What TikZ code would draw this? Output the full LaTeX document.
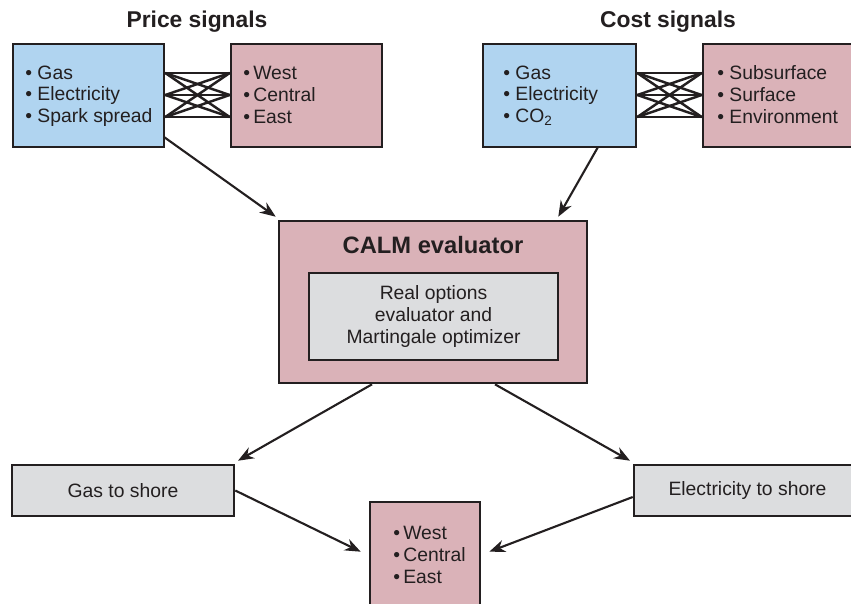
\documentclass[tikz,border=0pt]{standalone}
\usepackage{fontspec}
\setmainfont{Liberation Sans}
\usepackage{tikz}
\usetikzlibrary{arrows.meta}
\definecolor{sigblue}{RGB}{176,212,240}
\definecolor{sigpink}{RGB}{218,178,184}
\definecolor{boxgray}{RGB}{220,221,223}
\definecolor{ink}{RGB}{35,31,32}

\begin{document}
\begin{tikzpicture}[x=0.02cm, y=-0.02cm,
	box/.style={draw=ink, line width=1.5pt, inner sep=0pt},
	item/.style={anchor=west, inner sep=0pt, font=\fontsize{11}{12.5}\selectfont, text=ink},
	title/.style={font=\fontsize{13}{15}\selectfont\bfseries, text=ink},
	link/.style={draw=ink, line width=1.4pt},
	arr/.style={draw=ink, line width=1.2pt, -{Stealth[length=9pt, width=7pt]}}]
		\clip (0,0) rectangle (851,603);
		\useasboundingbox (0,0) rectangle (851,603);
		% titles
		\node[title] (ptitle) at (197,22) {Price signals};
		\node[title] (ctitle) at (668,22) {Cost signals};
		% signal boxes
		\node[box, fill=sigblue, minimum width=3.02cm, minimum height=2.06cm] (pl) at (88.5,95.5) {};
		\node[box, fill=sigpink, minimum width=3.02cm, minimum height=2.06cm] (pr) at (306.5,95.5) {};
		\node[box, fill=sigblue, minimum width=3.06cm, minimum height=2.06cm] (cl) at (559.5,95.5) {};
		\node[box, fill=sigpink, minimum width=3.2cm, minimum height=2.06cm] (cr) at (783,95.5) {};
		\foreach \t [count=\i] in {Gas,Electricity,Spark spread}
			\node[item] (pl\i) at (25,51+22*\i) {\textbullet\ \t};
		\foreach \t [count=\i] in {West,Central,East}
			\node[item] (pr\i) at (243,51+22*\i) {\textbullet\,\t};
		\foreach \t [count=\i] in {Gas,Electricity,CO\textsubscript{2}}
			\node[item] (cl\i) at (503,51+22*\i) {\textbullet\ \t};
		\foreach \t [count=\i] in {Subsurface,Surface,Environment}
			\node[item] (cr\i) at (717,51+22*\i) {\textbullet\ \t};
		% crossing links
		\foreach \i in {1,2,3}
			\foreach \j in {1,2,3} {
				\draw[link] (pl.east |- pl\i) -- (pr.west |- pr\j);
				\draw[link] (cl.east |- cl\i) -- (cr.west |- cr\j);
			}
		% evaluator
		\node[box, fill=sigpink, minimum width=6.16cm, minimum height=3.24cm] (calm) at (433,302) {};
		\node[title, font=\fontsize{13.5}{15}\selectfont\bfseries] (calmtitle) at (433,245) {CALM evaluator};
		\node[box, fill=boxgray, minimum width=4.98cm, minimum height=1.74cm, align=center,
			font=\fontsize{11}{12.5}\selectfont, text=ink] (inner) at (433.5,316.5)
			{Real options\\evaluator and\\Martingale optimizer};
		% outputs
		\node[box, fill=boxgray, minimum width=4.44cm, minimum height=1.02cm,
			font=\fontsize{11}{12.5}\selectfont, text=ink] (gas) at (123,490.5) {Gas to shore};
		\node[box, fill=boxgray, minimum width=4.52cm, minimum height=1.02cm] (elec) at (747,490.5) {};
		\node[item, anchor=center] (electxt) at (747.5,490.5) {Electricity to shore};
		\node[box, fill=sigpink, minimum width=2.2cm, minimum height=2.36cm] (reg) at (425,561) {};
		\foreach \t [count=\i] in {West,Central,East}
			\node[item] (reg\i) at (393,511+22*\i) {\textbullet\,\t};
		% arrows
		\coordinate (a1) at (164,137);
		\coordinate (a2) at (598,147);
		\draw[arr] (a1) -- ([shift={(-0.04cm,0.06cm)}] calm.north west);
		\draw[arr] (a2) -- ([shift={(-0.6cm,0.06cm)}] calm.north east);
		\draw[arr] ([xshift=-1.22cm] calm.south) -- ([shift={(2.3cm,0.06cm)}] gas.north);
		\draw[arr] ([xshift=1.24cm] calm.south) -- ([shift={(-2.34cm,0.06cm)}] elec.north);
		\draw[arr] (gas.east) -- ([shift={(-0.16cm,-1.02cm)}] reg.north west);
		\draw[arr] ([yshift=-0.13cm] elec.west) -- ([shift={(0.16cm,-1.02cm)}] reg.north east);
	\end{tikzpicture}
\end{document}
